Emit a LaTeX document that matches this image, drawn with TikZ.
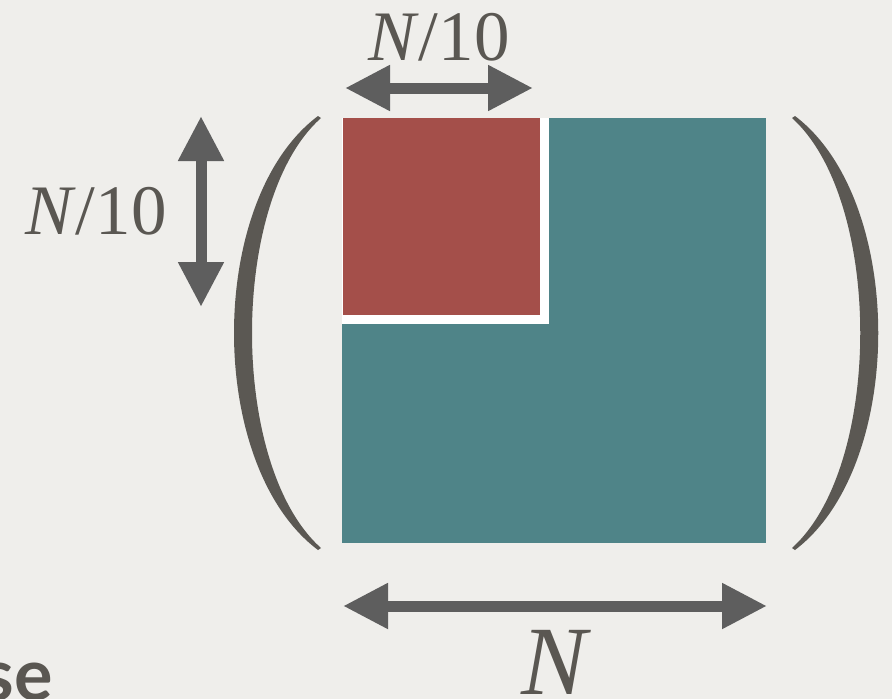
\documentclass[tikz,border=0pt]{standalone}
\usepackage{fontspec}
\setmainfont{Liberation Serif}
\newfontfamily\labelsans{Lato}
\usetikzlibrary{arrows.meta}
\definecolor{bgc}{HTML}{EFEEEB}
\definecolor{tealc}{HTML}{4F8488}
\definecolor{redc}{HTML}{A44F4A}
\definecolor{parenc}{HTML}{5B5853}
\definecolor{arrowc}{HTML}{5E5E5E}
\definecolor{textc}{HTML}{5A5752}
\tikzset{
  dimarrow/.style={draw=arrowc, line width=11pt,
    {Triangle[length=45pt,width=43pt]}-{Triangle[length=45pt,width=43pt]}},
  parenshape/.style={fill=parenc},
  labeltext/.style={text=textc, inner sep=0pt, font=\fontsize{71}{71}\selectfont},
}
\begin{document}
\begin{tikzpicture}[x=1pt,y=-1pt]
\fill[bgc] (0,0) rectangle (892,699);
\useasboundingbox (0,0) rectangle (892,699);
\clip (0,0) rectangle (892,699);
% matrix blocks
\fill[tealc] (342,118) rectangle (766,543);
\fill[white] (342,118) rectangle (549,324);
\fill[redc] (343,118) rectangle (540,315);
% parentheses
\fill[parenshape] (318,116) .. controls (206,200) and (206,466) .. (318,550)
  -- (321,548) .. controls (229,466) and (229,200) .. (321,118) -- cycle;
\fill[parenshape] (795,116) .. controls (906,200) and (906,466) .. (795,550)
  -- (792,548) .. controls (883,466) and (883,200) .. (792,118) -- cycle;
% arrow end points
\coordinate (tl) at (345,88);
\coordinate (tr) at (533,88);
\coordinate (vt) at (201,116);
\coordinate (vb) at (201,307);
\coordinate (bl) at (343,606);
\coordinate (br) at (767,606);
\draw[dimarrow] (tl) -- (tr);
\draw[dimarrow] (vt) -- (vb);
\draw[dimarrow] (bl) -- (br);
% labels
\node[labeltext, anchor=base] (toplab) at (439,60) {\textit{N}/10};
\node[labeltext, anchor=base] (leftlab) at (96,234) {\textit{N}/10};
\node[labeltext, anchor=base, font=\fontsize{98}{98}\selectfont] (botlab) at (556,694) {\textit{N}};
\node[text=textc, inner sep=0pt, anchor=base east, font=\labelsans\bfseries\fontsize{72}{72}\selectfont] (cut) at (53,700) {se};
\end{tikzpicture}
\end{document}
